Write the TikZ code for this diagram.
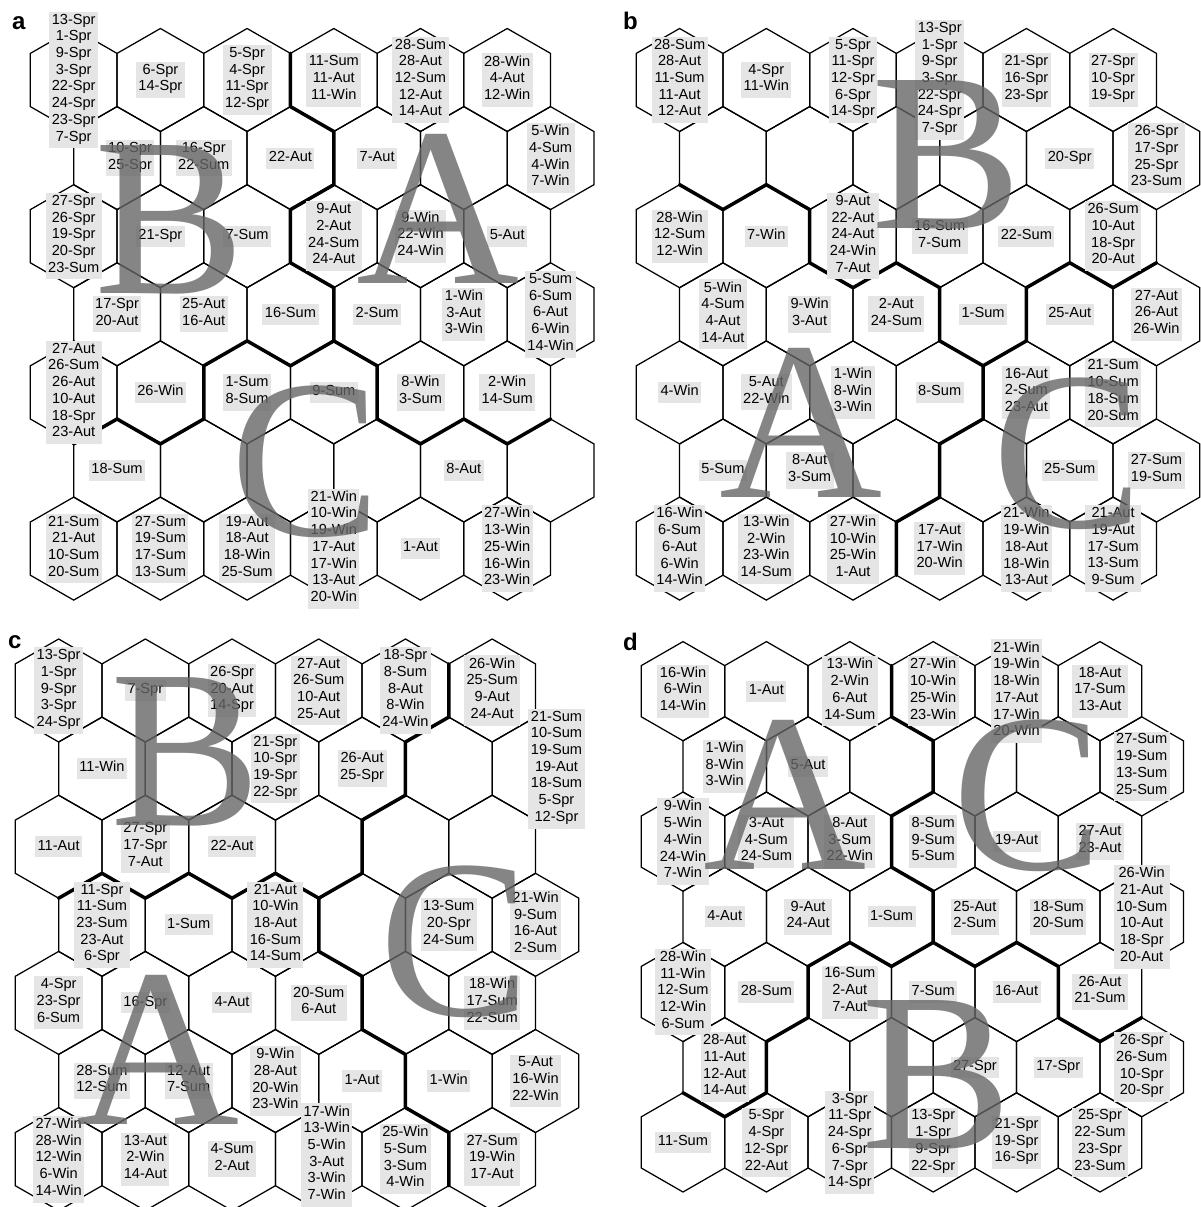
\documentclass[tikz,border=0pt]{standalone}
\usepackage{fontspec}
\setmainfont{Liberation Sans}
\newfontfamily\bigserif{Liberation Serif}
\usetikzlibrary{calc}

% hex lattice of one map: name, x0, y0, half width, half height, half side, row step
\newcommand{\somgrid}[7]{%
  \foreach \kk in {-1,...,12}{%
    \foreach \jj in {0,...,15}{%
      \pgfmathsetmacro{\vx}{#2+\kk*#4}%
      \pgfmathsetmacro{\vy}{#3+floor(\jj/2)*#7-(mod(\jj,2)==1 ? #6 : #5)}%
      \coordinate (#1-\kk-\jj) at (\vx,\vy);
    }%
  }%
  \foreach \rr in {1,...,7}{%
    \foreach \cc in {1,...,6}{%
      \pgfmathtruncatemacro{\kc}{2*\cc-2+(mod(\rr,2)==0 ? 1 : 0)}%
      \pgfmathtruncatemacro{\kl}{\kc-1}%
      \pgfmathtruncatemacro{\kr}{\kc+1}%
      \pgfmathtruncatemacro{\ja}{2*\rr-2}%
      \pgfmathtruncatemacro{\jb}{2*\rr-1}%
      \pgfmathtruncatemacro{\jc}{2*\rr}%
      \pgfmathtruncatemacro{\jd}{2*\rr+1}%
      \draw[cell] (#1-\kc-\ja) -- (#1-\kr-\jb) -- (#1-\kr-\jc) -- (#1-\kc-\jd) -- (#1-\kl-\jc) -- (#1-\kl-\jb) -- cycle;
      \pgfmathsetmacro{\vx}{#2+\kc*#4}%
      \pgfmathsetmacro{\vy}{#3+(\rr-1)*#7}%
      \coordinate (#1\rr\cc) at (\vx,\vy);
    }%
  }%
}
% thick cluster border through lattice vertices
\newcommand{\somborder}[3]{\draw[bnd] (#1-#2) \foreach \p/\q in {#3}{ -- (#1-\p-\q)};}

\begin{document}
\begin{tikzpicture}[x=1pt, y=-1pt,
    cell/.style={line width=1.25pt},
    bnd/.style={line width=3.5pt, line join=round, line cap=round},
    tag/.style={fill=black!10, inner xsep=2.5pt, inner ysep=2.2pt, align=center, font=\fontsize{14.6}{16.7}\selectfont, execute at begin node=\strut, execute at end node=\strut},
    panel/.style={anchor=base west, inner sep=0pt, font=\bfseries\fontsize{24}{24}\selectfont},
    clust/.style={inner sep=0pt, text=black!60, opacity=0.8, text opacity=0.8, font=\bigserif\fontsize{226}{226}\selectfont}
]
\useasboundingbox (0,0) rectangle (1200,1207);

% the four maps
\somgrid{a}{73.7}{80}{43.35}{51.5}{26.6}{78.1}
\somgrid{b}{679.6}{80}{43.35}{51.5}{26.6}{78.1}
\somgrid{c}{58.65}{690.5}{43.35}{51.5}{26.6}{78.1}
\somgrid{d}{683}{691.2}{41.7}{49.6}{25.6}{75.2}

% cluster borders
\somborder{a}{5-1}{5/2,6/3,6/4,5/5,5/6,6/7,6/8}
\somborder{a}{0-11}{1/10,2/11,3/10,3/9,4/8,5/9,6/8,7/9,7/10,8/11,9/10,10/11,11/10}
\somborder{b}{0-4}{1/5,2/4,3/5,3/6,4/7,5/6,6/7,6/8,7/9,8/8,8/7,9/6,10/7,11/6}
\somborder{b}{7-9}{7/10,6/11,6/12,5/13,5/14}
\somborder{c}{0-7}{1/6,2/7,3/6,4/7,5/6,6/7,7/6,7/5,8/4,8/3,9/2,9/1}
\somborder{c}{6-7}{6/8,7/9,7/10,8/11,8/12,9/13,9/14}
\somborder{d}{5-1}{5/2,6/3,6/4,5/5,5/6,6/7,6/8}
\somborder{d}{0-12}{1/13,2/12,2/11,3/10,3/9,4/8,5/9,6/8,7/9,8/8,9/9,9/10,10/11,11/10}

% map a
\node[tag] (a11t) at (a11) {13-Spr\\1-Spr\\9-Spr\\3-Spr\\22-Spr\\24-Spr\\23-Spr\\7-Spr};
\node[tag] (a12t) at (a12) {6-Spr\\14-Spr};
\node[tag] (a13t) at (a13) {5-Spr\\4-Spr\\11-Spr\\12-Spr};
\node[tag] (a14t) at (a14) {11-Sum\\11-Aut\\11-Win};
\node[tag] (a15t) at (a15) {28-Sum\\28-Aut\\12-Sum\\12-Aut\\14-Aut};
\node[tag] (a16t) at (a16) {28-Win\\4-Aut\\12-Win};
\node[tag, xshift=13pt] (a21t) at (a21) {10-Spr\\25-Spr};
\node[tag] (a22t) at (a22) {16-Spr\\22-Sum};
\node[tag] (a23t) at (a23) {22-Aut};
\node[tag] (a24t) at (a24) {7-Aut};
\node[tag] (a26t) at (a26) {5-Win\\4-Sum\\4-Win\\7-Win};
\node[tag] (a31t) at (a31) {27-Spr\\26-Spr\\19-Spr\\20-Spr\\23-Sum};
\node[tag] (a32t) at (a32) {21-Spr};
\node[tag] (a33t) at (a33) {7-Sum};
\node[tag] (a34t) at (a34) {9-Aut\\2-Aut\\24-Sum\\24-Aut};
\node[tag] (a35t) at (a35) {9-Win\\22-Win\\24-Win};
\node[tag] (a36t) at (a36) {5-Aut};
\node[tag] (a41t) at (a41) {17-Spr\\20-Aut};
\node[tag] (a42t) at (a42) {25-Aut\\16-Aut};
\node[tag] (a43t) at (a43) {16-Sum};
\node[tag] (a44t) at (a44) {2-Sum};
\node[tag] (a45t) at (a45) {1-Win\\3-Aut\\3-Win};
\node[tag] (a46t) at (a46) {5-Sum\\6-Sum\\6-Aut\\6-Win\\14-Win};
\node[tag] (a51t) at (a51) {27-Aut\\26-Sum\\26-Aut\\10-Aut\\18-Spr\\23-Aut};
\node[tag] (a52t) at (a52) {26-Win};
\node[tag] (a53t) at (a53) {1-Sum\\8-Sum};
\node[tag] (a54t) at (a54) {9-Sum};
\node[tag] (a55t) at (a55) {8-Win\\3-Sum};
\node[tag] (a56t) at (a56) {2-Win\\14-Sum};
\node[tag] (a61t) at (a61) {18-Sum};
\node[tag] (a65t) at (a65) {8-Aut};
\node[tag] (a71t) at (a71) {21-Sum\\21-Aut\\10-Sum\\20-Sum};
\node[tag] (a72t) at (a72) {27-Sum\\19-Sum\\17-Sum\\13-Sum};
\node[tag] (a73t) at (a73) {19-Aut\\18-Aut\\18-Win\\25-Sum};
\node[tag] (a74t) at (a74) {21-Win\\10-Win\\19-Win\\17-Aut\\17-Win\\13-Aut\\20-Win};
\node[tag] (a75t) at (a75) {1-Aut};
\node[tag] (a76t) at (a76) {27-Win\\13-Win\\25-Win\\16-Win\\23-Win};

% map b
\node[tag] (b11t) at (b11) {28-Sum\\28-Aut\\11-Sum\\11-Aut\\12-Aut};
\node[tag] (b12t) at (b12) {4-Spr\\11-Win};
\node[tag] (b13t) at (b13) {5-Spr\\11-Spr\\12-Spr\\6-Spr\\14-Spr};
\node[tag] (b14t) at (b14) {13-Spr\\1-Spr\\9-Spr\\3-Spr\\22-Spr\\24-Spr\\7-Spr};
\node[tag] (b15t) at (b15) {21-Spr\\16-Spr\\23-Spr};
\node[tag] (b16t) at (b16) {27-Spr\\10-Spr\\19-Spr};
\node[tag] (b25t) at (b25) {20-Spr};
\node[tag] (b26t) at (b26) {26-Spr\\17-Spr\\25-Spr\\23-Sum};
\node[tag] (b31t) at (b31) {28-Win\\12-Sum\\12-Win};
\node[tag] (b32t) at (b32) {7-Win};
\node[tag] (b33t) at (b33) {9-Aut\\22-Aut\\24-Aut\\24-Win\\7-Aut};
\node[tag] (b34t) at (b34) {16-Sum\\7-Sum};
\node[tag] (b35t) at (b35) {22-Sum};
\node[tag] (b36t) at (b36) {26-Sum\\10-Aut\\18-Spr\\20-Aut};
\node[tag] (b41t) at (b41) {5-Win\\4-Sum\\4-Aut\\14-Aut};
\node[tag] (b42t) at (b42) {9-Win\\3-Aut};
\node[tag] (b43t) at (b43) {2-Aut\\24-Sum};
\node[tag] (b44t) at (b44) {1-Sum};
\node[tag] (b45t) at (b45) {25-Aut};
\node[tag] (b46t) at (b46) {27-Aut\\26-Aut\\26-Win};
\node[tag] (b51t) at (b51) {4-Win};
\node[tag] (b52t) at (b52) {5-Aut\\22-Win};
\node[tag] (b53t) at (b53) {1-Win\\8-Win\\3-Win};
\node[tag] (b54t) at (b54) {8-Sum};
\node[tag] (b55t) at (b55) {16-Aut\\2-Sum\\23-Aut};
\node[tag] (b56t) at (b56) {21-Sum\\10-Sum\\18-Sum\\20-Sum};
\node[tag] (b61t) at (b61) {5-Sum};
\node[tag] (b62t) at (b62) {8-Aut\\3-Sum};
\node[tag] (b65t) at (b65) {25-Sum};
\node[tag] (b66t) at (b66) {27-Sum\\19-Sum};
\node[tag] (b71t) at (b71) {16-Win\\6-Sum\\6-Aut\\6-Win\\14-Win};
\node[tag] (b72t) at (b72) {13-Win\\2-Win\\23-Win\\14-Sum};
\node[tag] (b73t) at (b73) {27-Win\\10-Win\\25-Win\\1-Aut};
\node[tag] (b74t) at (b74) {17-Aut\\17-Win\\20-Win};
\node[tag] (b75t) at (b75) {21-Win\\19-Win\\18-Aut\\18-Win\\13-Aut};
\node[tag] (b76t) at (b76) {21-Aut\\19-Aut\\17-Sum\\13-Sum\\9-Sum};

% map c
\node[tag] (c11t) at (c11) {13-Spr\\1-Spr\\9-Spr\\3-Spr\\24-Spr};
\node[tag] (c12t) at (c12) {7-Spr};
\node[tag] (c13t) at (c13) {26-Spr\\20-Aut\\14-Spr};
\node[tag] (c14t) at (c14) {27-Aut\\26-Sum\\10-Aut\\25-Aut};
\node[tag] (c15t) at (c15) {18-Spr\\8-Sum\\8-Aut\\8-Win\\24-Win};
\node[tag] (c16t) at (c16) {26-Win\\25-Sum\\9-Aut\\24-Aut};
\node[tag] (c21t) at (c21) {11-Win};
\node[tag] (c23t) at (c23) {21-Spr\\10-Spr\\19-Spr\\22-Spr};
\node[tag] (c24t) at (c24) {26-Aut\\25-Spr};
\node[tag, xshift=21pt] (c26t) at (c26) {21-Sum\\10-Sum\\19-Sum\\19-Aut\\18-Sum\\5-Spr\\12-Spr};
\node[tag] (c31t) at (c31) {11-Aut};
\node[tag] (c32t) at (c32) {27-Spr\\17-Spr\\7-Aut};
\node[tag] (c33t) at (c33) {22-Aut};
\node[tag] (c41t) at (c41) {11-Spr\\11-Sum\\23-Sum\\23-Aut\\6-Spr};
\node[tag] (c42t) at (c42) {1-Sum};
\node[tag] (c43t) at (c43) {21-Aut\\10-Win\\18-Aut\\16-Sum\\14-Sum};
\node[tag] (c45t) at (c45) {13-Sum\\20-Spr\\24-Sum};
\node[tag] (c46t) at (c46) {21-Win\\9-Sum\\16-Aut\\2-Sum};
\node[tag] (c51t) at (c51) {4-Spr\\23-Spr\\6-Sum};
\node[tag] (c52t) at (c52) {16-Spr};
\node[tag] (c53t) at (c53) {4-Aut};
\node[tag] (c54t) at (c54) {20-Sum\\6-Aut};
\node[tag] (c56t) at (c56) {18-Win\\17-Sum\\22-Sum};
\node[tag] (c61t) at (c61) {28-Sum\\12-Sum};
\node[tag] (c62t) at (c62) {12-Aut\\7-Sum};
\node[tag] (c63t) at (c63) {9-Win\\28-Aut\\20-Win\\23-Win};
\node[tag] (c64t) at (c64) {1-Aut};
\node[tag] (c65t) at (c65) {1-Win};
\node[tag] (c66t) at (c66) {5-Aut\\16-Win\\22-Win};
\node[tag] (c71t) at (c71) {27-Win\\28-Win\\12-Win\\6-Win\\14-Win};
\node[tag] (c72t) at (c72) {13-Aut\\2-Win\\14-Aut};
\node[tag] (c73t) at (c73) {4-Sum\\2-Aut};
\node[tag, xshift=8pt, yshift=4pt] (c74t) at (c74) {17-Win\\13-Win\\5-Win\\3-Aut\\3-Win\\7-Win};
\node[tag] (c75t) at (c75) {25-Win\\5-Sum\\3-Sum\\4-Win};
\node[tag] (c76t) at (c76) {27-Sum\\19-Win\\17-Aut};

% map d
\node[tag] (d11t) at (d11) {16-Win\\6-Win\\14-Win};
\node[tag] (d12t) at (d12) {1-Aut};
\node[tag] (d13t) at (d13) {13-Win\\2-Win\\6-Aut\\14-Sum};
\node[tag] (d14t) at (d14) {27-Win\\10-Win\\25-Win\\23-Win};
\node[tag] (d15t) at (d15) {21-Win\\19-Win\\18-Win\\17-Aut\\17-Win\\20-Win};
\node[tag] (d16t) at (d16) {18-Aut\\17-Sum\\13-Aut};
\node[tag] (d21t) at (d21) {1-Win\\8-Win\\3-Win};
\node[tag] (d22t) at (d22) {5-Aut};
\node[tag] (d26t) at (d26) {27-Sum\\19-Sum\\13-Sum\\25-Sum};
\node[tag] (d31t) at (d31) {9-Win\\5-Win\\4-Win\\24-Win\\7-Win};
\node[tag] (d32t) at (d32) {3-Aut\\4-Sum\\24-Sum};
\node[tag] (d33t) at (d33) {8-Aut\\3-Sum\\22-Win};
\node[tag] (d34t) at (d34) {8-Sum\\9-Sum\\5-Sum};
\node[tag] (d35t) at (d35) {19-Aut};
\node[tag] (d36t) at (d36) {27-Aut\\23-Aut};
\node[tag] (d41t) at (d41) {4-Aut};
\node[tag] (d42t) at (d42) {9-Aut\\24-Aut};
\node[tag] (d43t) at (d43) {1-Sum};
\node[tag] (d44t) at (d44) {25-Aut\\2-Sum};
\node[tag] (d45t) at (d45) {18-Sum\\20-Sum};
\node[tag] (d46t) at (d46) {26-Win\\21-Aut\\10-Sum\\10-Aut\\18-Spr\\20-Aut};
\node[tag] (d51t) at (d51) {28-Win\\11-Win\\12-Sum\\12-Win\\6-Sum};
\node[tag] (d52t) at (d52) {28-Sum};
\node[tag] (d53t) at (d53) {16-Sum\\2-Aut\\7-Aut};
\node[tag] (d54t) at (d54) {7-Sum};
\node[tag] (d55t) at (d55) {16-Aut};
\node[tag] (d56t) at (d56) {26-Aut\\21-Sum};
\node[tag] (d61t) at (d61) {28-Aut\\11-Aut\\12-Aut\\14-Aut};
\node[tag] (d64t) at (d64) {27-Spr};
\node[tag] (d65t) at (d65) {17-Spr};
\node[tag] (d66t) at (d66) {26-Spr\\26-Sum\\10-Spr\\20-Spr};
\node[tag] (d71t) at (d71) {11-Sum};
\node[tag] (d72t) at (d72) {5-Spr\\4-Spr\\12-Spr\\22-Aut};
\node[tag] (d73t) at (d73) {3-Spr\\11-Spr\\24-Spr\\6-Spr\\7-Spr\\14-Spr};
\node[tag] (d74t) at (d74) {13-Spr\\1-Spr\\9-Spr\\22-Spr};
\node[tag] (d75t) at (d75) {21-Spr\\19-Spr\\16-Spr};
\node[tag] (d76t) at (d76) {25-Spr\\22-Sum\\23-Spr\\23-Sum};

% panel letters
\node[panel] (pa) at (12,30) {a};
\node[panel] (pb) at (623,30) {b};
\node[panel] (pc) at (8,648) {c};
\node[panel] (pd) at (623,650) {d};

% cluster letters
\node[clust] (aB) at (170,220) {B};
\node[clust] (aA) at (438,209) {A};
\node[clust] (aC) at (306,462) {C};
\node[clust] (bB) at (947,155) {B};
\node[clust] (bA) at (801,423) {A};
\node[clust] (bC) at (1068,454) {C};
\node[clust] (cB) at (186,752) {B};
\node[clust] (cA) at (158,1050) {A};
\node[clust] (cC) at (455,942) {C};
\node[clust] (dA) at (785,795) {A};
\node[clust] (dC) at (1028,796) {C};
\node[clust] (dB) at (937,1075) {B};
\end{tikzpicture}
\end{document}
